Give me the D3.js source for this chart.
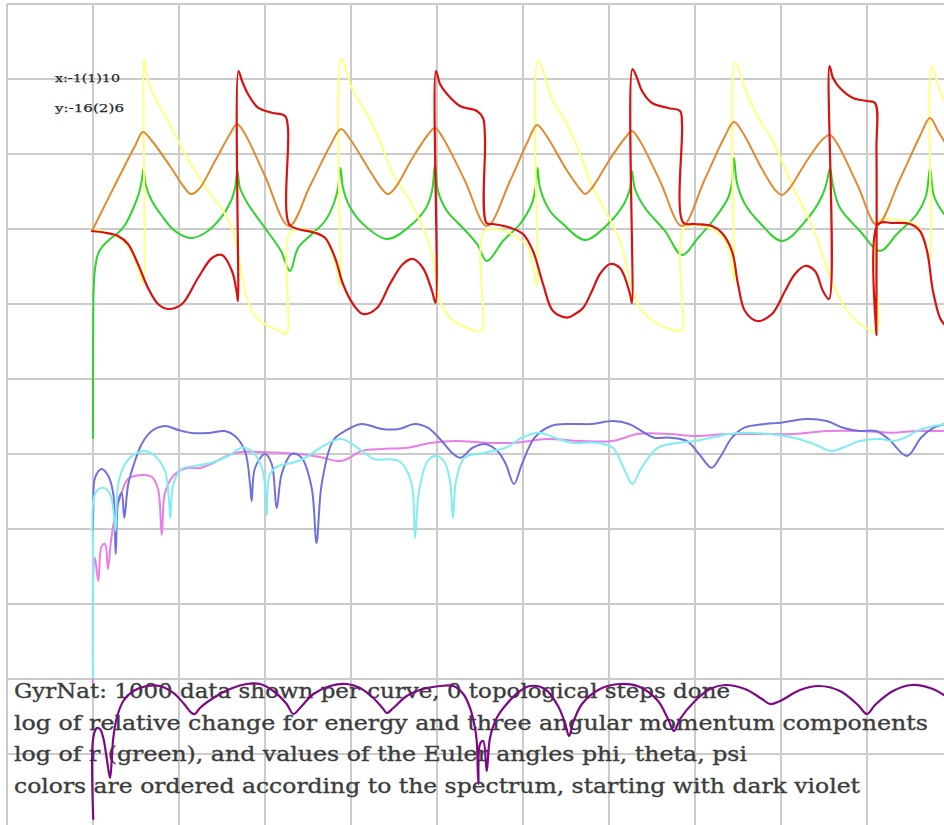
<!DOCTYPE html>
<html>
<head>
<meta charset="utf-8">
<script src="https://cdn.jsdelivr.net/npm/d3@7"></script>
<style>
html,body{margin:0;padding:0;background:#fff;}
svg{display:block;}
</style>
</head>
<body>
<div id="chart"></div>
<script>
// ---- axis / grid definitions (x:-1(1)10, y:-16(2)6) ----
const xGrid = [-1,0,1,2,3,4,5,6,7,8,9,10];
const yGrid = [-16,-14,-12,-10,-8,-6,-4,-2,0,2,4,6];
const rangeLabels = ["x:-1(1)10", "y:-16(2)6"];
const infoLines = [
  "GyrNat: 1000 data shown per curve, 0 topological steps done",
  "log of relative change for energy and three angular momentum components",
  "log of r (green), and values of the Euler angles phi, theta, psi",
  "colors are ordered according to the spectrum, starting with dark violet"
];

// ---- series (x, y) ----
const energy = [[0.003,-15.733],[0.003,-13.573],[0.043,-13.307],[0.081,-13.333],[0.12,-13.573],[0.159,-14.107],[0.198,-14.64],[0.217,-14.187],[0.236,-13.573],[0.276,-13.04],[0.352,-12.587],[0.469,-12.32],[0.624,-12.187],[0.779,-12.187],[0.934,-12.373],[1.05,-12.64],[1.148,-12.907],[1.186,-12.933],[1.244,-12.773],[1.399,-12.507],[1.593,-12.267],[1.787,-12.133],[1.942,-12.133],[2.097,-12.32],[2.252,-12.667],[2.329,-12.933],[2.407,-12.773],[2.562,-12.4],[2.756,-12.187],[2.95,-12.133],[3.105,-12.24],[3.259,-12.507],[3.376,-12.8],[3.415,-12.907],[3.492,-12.773],[3.648,-12.453],[3.841,-12.267],[4.035,-12.187],[4.19,-12.187],[4.306,-12.4],[4.384,-12.773],[4.442,-13.307],[4.462,-13.653],[4.481,-14.8],[4.5,-13.733],[4.538,-13.653],[4.578,-14.453],[4.616,-13.573],[4.694,-13.04],[4.81,-12.667],[4.965,-12.32],[5.081,-12.187],[5.256,-12.267],[5.407,-12.72],[5.488,-13.173],[5.535,-13.52],[5.581,-13.173],[5.686,-12.667],[5.895,-12.267],[6.128,-12.133],[6.36,-12.213],[6.57,-12.587],[6.686,-13.067],[6.756,-13.387],[6.826,-13.067],[7.0,-12.587],[7.174,-12.267],[7.349,-12.16],[7.581,-12.267],[7.779,-12.533],[7.872,-12.667],[7.988,-12.587],[8.221,-12.293],[8.442,-12.187],[8.686,-12.32],[8.895,-12.693],[9.0,-12.933],[9.093,-12.693],[9.302,-12.32],[9.523,-12.16],[9.733,-12.24],[9.895,-12.427],[9.988,-12.587]];

const angMom1 = [[0,-12.107],[0.012,-8.853],[0.023,-8.773],[0.062,-9.387],[0.101,-8.453],[0.14,-8.4],[0.174,-9.067],[0.209,-8.32],[0.256,-7.653],[0.314,-7.173],[0.407,-6.667],[0.566,-6.56],[0.683,-6.613],[0.756,-6.933],[0.799,-8.16],[0.837,-7.04],[0.934,-6.587],[1.09,-6.373],[1.244,-6.373],[1.399,-6.24],[1.555,-6.053],[1.709,-5.947],[1.942,-5.947],[2.233,-5.973],[2.407,-6.0],[2.64,-6.08],[2.884,-6.187],[3.128,-5.92],[3.36,-5.867],[3.651,-5.832],[3.938,-5.699],[4.221,-5.653],[4.558,-5.699],[4.895,-5.699],[5.279,-5.6],[5.663,-5.653],[6.044,-5.653],[6.33,-5.467],[6.709,-5.467],[7.0,-5.52],[7.384,-5.467],[7.767,-5.467],[8.151,-5.467],[8.531,-5.387],[8.915,-5.387],[9.298,-5.432],[9.581,-5.387],[9.907,-5.387],[10.02,-5.36]];

const angMom2 = [[0,-8.053],[0.004,-7.44],[0.023,-6.64],[0.101,-6.4],[0.178,-6.587],[0.236,-7.067],[0.264,-8.667],[0.294,-7.253],[0.334,-7.04],[0.364,-7.707],[0.41,-6.8],[0.488,-6.187],[0.566,-5.733],[0.683,-5.387],[0.837,-5.253],[0.992,-5.36],[1.148,-5.44],[1.341,-5.44],[1.535,-5.387],[1.651,-5.52],[1.767,-5.92],[1.826,-6.8],[1.845,-7.253],[1.884,-6.373],[2.0,-6.0],[2.078,-6.267],[2.136,-7.44],[2.194,-6.533],[2.31,-6.0],[2.427,-6.107],[2.543,-6.907],[2.599,-8.373],[2.659,-6.8],[2.791,-5.645],[2.93,-5.387],[3.124,-5.2],[3.36,-5.333],[3.556,-5.333],[3.744,-5.2],[3.891,-5.299],[4.035,-5.6],[4.174,-5.965],[4.273,-6.099],[4.416,-5.832],[4.558,-5.733],[4.703,-5.92],[4.8,-6.267],[4.895,-6.8],[4.988,-6.267],[5.135,-5.565],[5.326,-5.253],[5.565,-5.2],[5.802,-5.2],[6.044,-5.12],[6.233,-5.2],[6.379,-5.387],[6.523,-5.565],[6.709,-5.565],[6.905,-5.653],[7.047,-6.0],[7.192,-6.365],[7.288,-6.099],[7.43,-5.565],[7.574,-5.299],[7.814,-5.2],[8.006,-5.165],[8.291,-5.067],[8.531,-5.12],[8.721,-5.299],[8.915,-5.387],[9.105,-5.387],[9.25,-5.6],[9.465,-6.053],[9.628,-5.565],[9.776,-5.299],[9.907,-5.2],[10.02,-5.147]];

const angMom3 = [[0,-11.973],[0.001,-8.853],[0.003,-7.253],[0.043,-6.987],[0.12,-6.899],[0.198,-7.067],[0.244,-7.653],[0.262,-8.053],[0.294,-6.8],[0.372,-6.267],[0.488,-6.0],[0.605,-5.92],[0.721,-6.053],[0.837,-6.453],[0.884,-7.253],[0.899,-7.707],[0.934,-6.8],[1.031,-6.4],[1.186,-6.32],[1.38,-6.232],[1.573,-6.053],[1.729,-5.832],[1.845,-5.92],[1.962,-6.365],[2.006,-6.987],[2.02,-7.627],[2.058,-6.533],[2.155,-6.32],[2.31,-6.24],[2.465,-6.107],[2.64,-5.84],[2.884,-5.6],[3.128,-5.92],[3.267,-6.133],[3.558,-6.187],[3.698,-6.72],[3.744,-8.24],[3.791,-6.987],[3.891,-6.187],[3.988,-6.053],[4.081,-6.187],[4.151,-6.72],[4.186,-7.707],[4.221,-6.72],[4.321,-6.099],[4.558,-5.965],[4.8,-5.832],[4.988,-5.565],[5.183,-5.432],[5.372,-5.565],[5.565,-5.699],[5.849,-5.699],[6.044,-5.832],[6.186,-6.453],[6.273,-6.8],[6.379,-6.365],[6.57,-5.832],[6.809,-5.699],[7.0,-5.653],[7.192,-5.565],[7.384,-5.467],[7.57,-5.432],[7.86,-5.467],[8.151,-5.565],[8.384,-5.733],[8.581,-5.92],[8.721,-5.832],[8.915,-5.653],[9.151,-5.6],[9.298,-5.653],[9.442,-5.565],[9.581,-5.387],[9.776,-5.253],[9.907,-5.2],[10.02,-5.147]];

const logR = [[0,-5.573],[0.002,-2.72],[0.007,-1.653],[0.023,-1.067],[0.058,-0.667],[0.116,-0.453],[0.198,-0.267],[0.291,-0.107],[0.372,0.107],[0.465,0.533],[0.535,0.96],[0.57,1.333],[0.587,1.6],[0.616,1.147],[0.686,0.747],[0.802,0.347],[0.953,-0.053],[1.14,-0.24],[1.302,-0.107],[1.477,0.267],[1.605,0.747],[1.651,1.093],[1.68,1.547],[1.709,1.093],[1.802,0.667],[2.0,0.027],[2.186,-0.587],[2.291,-1.12],[2.384,-0.507],[2.547,-0.133],[2.698,0.213],[2.802,0.693],[2.849,1.093],[2.878,1.627],[2.907,1.093],[2.988,0.587],[3.14,0.133],[3.419,-0.267],[3.686,0.08],[3.872,0.56],[3.942,1.013],[3.977,1.707],[4.012,1.013],[4.116,0.48],[4.302,0.027],[4.465,-0.4],[4.581,-0.853],[4.767,-0.32],[4.965,0.133],[5.105,0.693],[5.145,1.093],[5.169,1.627],[5.198,1.093],[5.314,0.48],[5.465,0.133],[5.721,-0.293],[5.988,0.133],[6.174,0.667],[6.244,1.067],[6.267,1.547],[6.302,1.067],[6.419,0.56],[6.651,-0.053],[6.849,-0.693],[7.035,-0.24],[7.233,0.293],[7.384,0.827],[7.43,1.227],[7.453,1.893],[7.488,1.227],[7.581,0.667],[7.756,0.16],[8.012,-0.32],[8.314,0.293],[8.477,0.88],[8.535,1.28],[8.57,1.627],[8.605,1.147],[8.686,0.56],[8.919,-0.053],[9.151,-0.587],[9.349,-0.133],[9.581,0.4],[9.686,0.88],[9.733,1.627],[9.779,0.88],[9.895,0.4],[10.02,0.08]];

const phi = [[0,0],[0.14,-0.08],[0.291,-0.213],[0.407,-0.453],[0.5,-0.907],[0.57,-1.387],[0.587,-1.467],[0.596,4.533],[0.64,3.947],[0.744,3.413],[0.872,2.88],[1.035,2.16],[1.186,1.547],[1.337,1.013],[1.535,0.4],[1.651,-0.24],[1.709,-0.933],[1.791,-1.867],[1.895,-2.347],[2.035,-2.587],[2.174,-2.72],[2.244,-2.8],[2.267,-2.72],[2.285,-0.107],[2.407,0],[2.581,-0.08],[2.698,-0.24],[2.791,-0.72],[2.849,-1.253],[2.872,-1.52],[2.884,4.533],[3.023,3.68],[3.186,3.067],[3.337,2.347],[3.488,1.467],[3.686,0.747],[3.837,0.027],[3.953,-0.773],[4.035,-1.92],[4.151,-2.373],[4.349,-2.64],[4.512,-2.72],[4.535,-2.667],[4.547,-0.053],[4.733,-0.027],[4.907,-0.187],[5.047,-0.453],[5.128,-1.12],[5.163,-1.52],[5.174,4.48],[5.349,3.413],[5.512,2.8],[5.663,2.0],[5.814,1.093],[5.977,0.4],[6.128,-0.32],[6.244,-1.387],[6.36,-2.107],[6.512,-2.453],[6.709,-2.667],[6.837,-2.72],[6.86,-2.64],[6.872,0.027],[7.093,0.08],[7.267,-0.107],[7.372,-0.4],[7.43,-0.987],[7.453,-1.387],[7.465,4.427],[7.605,3.6],[7.756,2.88],[7.907,2.347],[8.07,1.467],[8.221,0.747],[8.372,0.027],[8.488,-0.72],[8.605,-1.467],[8.767,-2.187],[8.919,-2.533],[9.07,-2.72],[9.116,-2.72],[9.128,0.213],[9.267,0.267],[9.442,0.213],[9.593,0.08],[9.686,-0.453],[9.733,-0.853],[9.75,4.347],[9.849,3.68],[9.965,3.147]];

const theta = [[0,0],[0.291,1.333],[0.488,2.213],[0.581,2.587],[0.686,2.347],[0.895,1.68],[1.058,1.12],[1.14,0.933],[1.233,1.067],[1.419,1.813],[1.593,2.533],[1.674,2.8],[1.767,2.533],[2.0,1.413],[2.279,0.08],[2.523,1.147],[2.756,2.213],[2.884,2.667],[2.988,2.4],[3.221,1.547],[3.36,1.067],[3.43,0.933],[3.512,1.093],[3.709,1.867],[3.884,2.48],[3.977,2.693],[4.07,2.427],[4.326,1.28],[4.581,0.08],[4.849,1.28],[5.058,2.347],[5.163,2.773],[5.267,2.507],[5.5,1.6],[5.663,1.067],[5.721,0.933],[5.802,1.093],[6.012,1.867],[6.186,2.427],[6.267,2.613],[6.36,2.347],[6.593,1.28],[6.849,0.08],[7.116,1.333],[7.337,2.427],[7.453,2.853],[7.558,2.56],[7.779,1.6],[7.942,1.013],[8.012,0.907],[8.093,1.067],[8.314,1.867],[8.488,2.4],[8.57,2.507],[8.663,2.24],[8.895,1.147],[9.116,0.107],[9.384,1.333],[9.616,2.48],[9.733,2.96],[9.826,2.613],[9.965,2.08]];

const psi = [[-0.012,-0.053],[0.14,-0.099],[0.291,-0.187],[0.407,-0.4],[0.523,-0.933],[0.64,-1.573],[0.756,-2.0],[0.872,-2.133],[1.035,-2.0],[1.221,-1.307],[1.384,-0.773],[1.5,-0.693],[1.616,-1.12],[1.674,-1.733],[1.686,-1.92],[1.692,4.213],[1.733,3.947],[1.802,3.6],[1.919,3.235],[2.081,3.101],[2.233,3.013],[2.267,2.693],[2.279,0.133],[2.384,0],[2.581,-0.099],[2.698,-0.232],[2.814,-0.765],[2.907,-1.467],[3.023,-2.0],[3.14,-2.267],[3.302,-2.107],[3.453,-1.467],[3.605,-0.933],[3.721,-0.8],[3.837,-1.04],[3.942,-1.653],[3.983,-1.973],[3.988,4.213],[4.035,3.867],[4.116,3.6],[4.267,3.28],[4.465,3.147],[4.535,2.96],[4.558,2.427],[4.576,0.16],[4.651,0.133],[4.849,0.035],[5.0,-0.133],[5.116,-0.587],[5.233,-1.467],[5.349,-2.187],[5.512,-2.365],[5.605,-2.267],[5.698,-2.107],[5.802,-1.653],[5.895,-1.2],[6.012,-0.933],[6.128,-1.04],[6.244,-1.733],[6.267,-1.973],[6.273,4.267],[6.326,4.027],[6.384,3.68],[6.5,3.36],[6.686,3.227],[6.826,3.147],[6.849,2.8],[6.864,0.168],[7.0,0.133],[7.198,0.08],[7.314,-0.107],[7.43,-0.587],[7.5,-1.467],[7.581,-2.187],[7.721,-2.453],[7.895,-2.267],[8.047,-1.653],[8.163,-1.2],[8.279,-0.987],[8.395,-1.12],[8.488,-1.653],[8.558,-1.867],[8.564,4.347],[8.605,4.027],[8.686,3.76],[8.837,3.493],[9.0,3.413],[9.093,3.36],[9.11,2.08],[9.11,-2.827],[9.128,0.133],[9.302,0.16],[9.5,0.133],[9.616,-0.053],[9.698,-0.587],[9.767,-1.653],[9.849,-2.373],[9.895,-2.533],[9.988,-2.72]];

// spectrum order, starting with dark violet
const seriesList = [
  {name:"energy", data:energy, color:"#7d0a85", w:2.2},
  {name:"L1",     data:angMom1, color:"#e87ee8", w:2},
  {name:"L2",     data:angMom2, color:"#7070dc", w:2},
  {name:"L3",     data:angMom3, color:"#80eef0", w:2},
  {name:"log r",  data:logR,   color:"#2ed42e", w:2},
  {name:"phi",    data:phi,    color:"#ffff80", w:2},
  {name:"theta",  data:theta,  color:"#e28a30", w:2},
  {name:"psi",    data:psi,    color:"#d81212", w:2.2}
];

const W = 944, H = 825;
const x = d3.scaleLinear().domain([-1, 10]).range([7, 953]);
const y = d3.scaleLinear().domain([-16, 6]).range([829, 4]);

const svg = d3.select("#chart").append("svg")
  .attr("width", W).attr("height", H)
  .attr("viewBox", `0 0 ${W} ${H}`);

svg.append("rect").attr("width", W).attr("height", H).attr("fill", "#fff");

// grid
const grid = svg.append("g").attr("stroke", "#cbcbcb").attr("stroke-width", 2);
grid.selectAll("line.v").data(xGrid).join("line").attr("class","v")
  .attr("x1", d => x(d)).attr("x2", d => x(d))
  .attr("y1", y(6)).attr("y2", y(-16));
grid.selectAll("line.h").data(yGrid).join("line").attr("class","h")
  .attr("x1", x(-1)).attr("x2", x(10))
  .attr("y1", d => y(d)).attr("y2", d => y(d));

// range labels
const lab = svg.append("g").attr("font-family", "'DejaVu Serif', serif")
  .attr("font-size", 11.5).attr("fill", "#2a2a2a")
  .attr("stroke", "#2a2a2a").attr("stroke-width", 0.25);
lab.append("text").attr("x", 55).attr("y", 82).attr("textLength", 65)
  .attr("lengthAdjust", "spacingAndGlyphs").text(rangeLabels[0]);
lab.append("text").attr("x", 55).attr("y", 112).attr("textLength", 69)
  .attr("lengthAdjust", "spacingAndGlyphs").text(rangeLabels[1]);

// info text
const lens = [716, 914, 733, 846];
const info = svg.append("g").attr("font-family", "'DejaVu Serif', serif")
  .attr("font-size", 20.5).attr("fill", "#3c3c3c")
  .attr("stroke", "#3c3c3c").attr("stroke-width", 0.35);
info.selectAll("text").data(infoLines).join("text")
  .attr("x", 14)
  .attr("y", (d, i) => 698 + i * 31.7)
  .attr("textLength", (d, i) => lens[i])
  .attr("lengthAdjust", "spacingAndGlyphs")
  .text(d => d);

// curves
const line = d3.line()
  .x(d => x(d[0])).y(d => y(d[1]))
  .curve(d3.curveCatmullRom.alpha(0.5));

svg.append("g").attr("fill", "none").attr("stroke-linejoin", "round").attr("stroke-linecap", "round")
  .selectAll("path").data(seriesList).join("path")
  .attr("d", s => line(s.data))
  .attr("stroke", s => s.color)
  .attr("stroke-width", s => s.w);
</script>
</body>
</html>
